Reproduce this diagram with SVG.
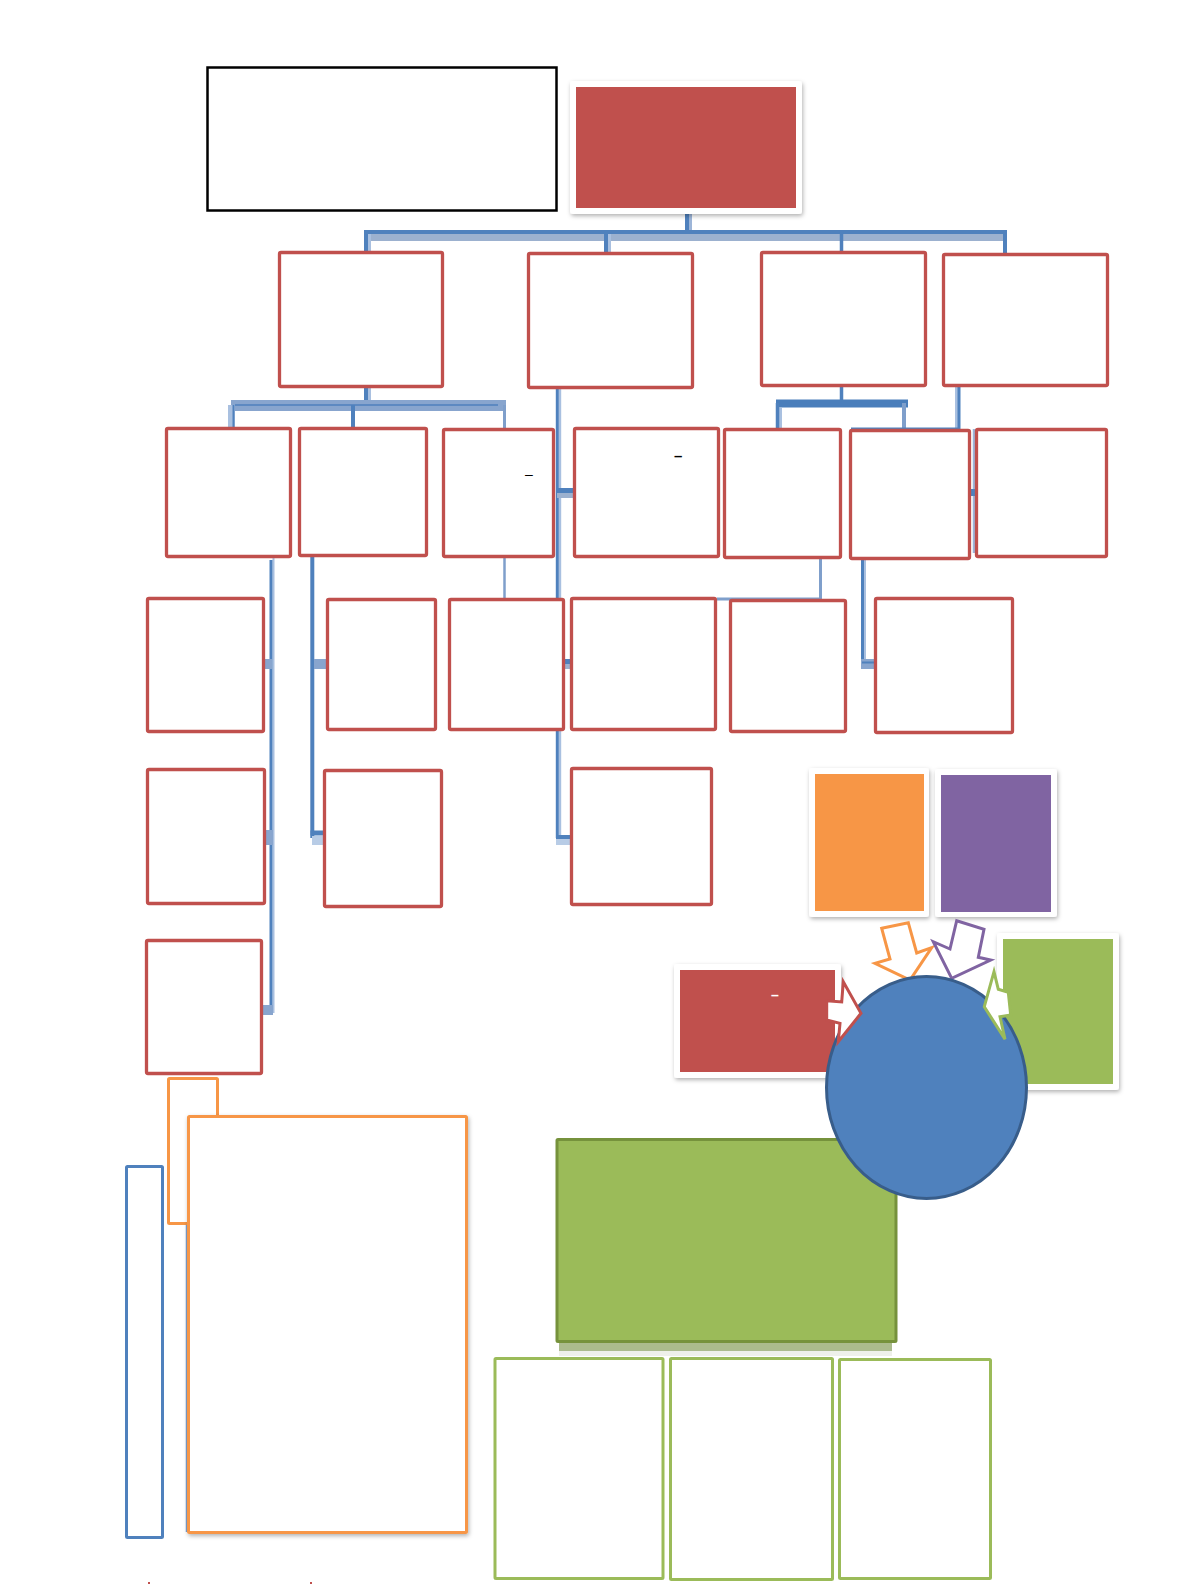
<svg xmlns="http://www.w3.org/2000/svg" width="1200" height="1584" viewBox="0 0 1200 1584">
<defs>
<style>
.rb{fill:#fff;stroke:#C0504D;stroke-width:3.3}
.card{fill:#fff;filter:url(#sh)}
.cd{fill:none;stroke:#4F81BD;stroke-linecap:butt}
.cl{fill:none;stroke:#9DB5D8}
.cm{fill:none;stroke:#7F9FCB}
.arr{fill:#fff;stroke-width:3;stroke-linejoin:miter}
.dash{font-family:"Liberation Sans",Arial,sans-serif}
</style>
<filter id="sh" x="-10%" y="-10%" width="125%" height="125%">
<feDropShadow dx="1" dy="2" stdDeviation="2" flood-color="#000" flood-opacity="0.3"/>
</filter>
</defs>
<rect width="1200" height="1584" fill="#fff"/>

<g id="connectors">
<!-- top tree -->
<rect x="689" y="214" width="3" height="17" fill="#9DB5D8"/>
<path class="cd" d="M687,214V232" stroke-width="4"/>
<rect x="366" y="234" width="639" height="7" fill="#9CB1CF"/>
<path class="cd" d="M364,232H1007" stroke-width="4"/>
<rect x="368" y="234" width="3" height="18" fill="#A9C0E0"/>
<path class="cd" d="M366,232V252" stroke-width="4"/>
<rect x="608" y="234" width="3" height="19" fill="#A9C0E0"/>
<path class="cd" d="M606,232V253" stroke-width="4"/>
<path class="cd" d="M841.5,232V252" stroke-width="3.5"/>
<path class="cd" d="M1005,232V255" stroke-width="4"/>
<!-- A to E F G -->
<rect x="368" y="388" width="3" height="13" fill="#A9C0E0"/>
<path class="cd" d="M366,388V402" stroke-width="4"/>
<rect x="231" y="400" width="275" height="11" fill="#88A5CE"/>
<path class="cd" d="M235,405H498" stroke-width="1.5"/>
<rect x="228" y="405" width="7" height="23" fill="#A9C0E0"/>
<path class="cd" d="M233.5,405V428" stroke-width="2"/>
<path class="cd" d="M353,405V427" stroke-width="4"/>
<path class="cm" d="M504.5,405V428" stroke-width="3"/>
<!-- B down to H O T -->
<rect x="558.7" y="389" width="2.5" height="449" fill="#A9C0E0"/>
<path class="cd" d="M557.3,389V838" stroke-width="3"/>
<rect x="557" y="493" width="16" height="5" fill="#9CB1CF"/>
<path class="cd" d="M557,490.5H573" stroke-width="5"/>
<rect x="557" y="664" width="13" height="5" fill="#9CB1CF"/>
<path class="cd" d="M557,661.5H570" stroke-width="5"/>
<rect x="556" y="839" width="16" height="6" fill="#B8CCE6"/>
<path class="cd" d="M556,837H572" stroke-width="4"/>
<!-- G to N -->
<path class="cm" d="M504.5,558V598" stroke-width="2.5"/>
<!-- E to L R U -->
<rect x="272.5" y="558" width="2" height="455" fill="#A9C0E0"/>
<path class="cd" d="M271,560V1012" stroke-width="3"/>
<rect x="264" y="659" width="8" height="10" fill="#88A5CE"/>
<rect x="265" y="830" width="8" height="15" fill="#88A5CE"/>
<rect x="263" y="1005" width="10" height="10" fill="#88A5CE"/>
<!-- F to M S -->
<path class="cd" d="M312.3,556V838" stroke-width="4"/>
<rect x="314" y="659" width="13" height="10" fill="#88A5CE"/>
<rect x="312" y="836" width="12" height="9" fill="#B8CCE6"/>
<path class="cd" d="M310.5,833H324" stroke-width="5"/>
<!-- C to I J -->
<path class="cd" d="M841.5,387V402" stroke-width="3.5"/>
<path d="M776,403.5H908" stroke="#4A7EBB" stroke-width="8" fill="none"/>
<rect x="779" y="408" width="3" height="20" fill="#A9C0E0"/>
<path class="cd" d="M777.5,403V429" stroke-width="3.5"/>
<path class="cm" d="M904,403V430" stroke-width="4"/>
<!-- D to K -->
<rect x="955" y="387" width="3" height="41" fill="#A9C0E0"/>
<path class="cd" d="M959,386V429H851" stroke-width="3"/>
<path class="cl" d="M974,429V553" stroke-width="2.5"/>
<path class="cd" d="M971,492.5H977" stroke-width="7"/>
<!-- I to P/O -->
<path class="cm" d="M820.5,559V599H717" stroke-width="3"/>
<!-- J to Q -->
<rect x="864" y="560" width="2" height="103" fill="#A9C0E0"/>
<path class="cd" d="M862.5,560V664" stroke-width="3"/>
<rect x="861" y="659" width="13" height="10" fill="#88A5CE"/>
<path class="cd" d="M862,662.5H874" stroke-width="2"/>
</g>

<g id="title-box"><rect x="207.5" y="67.5" width="349" height="143" fill="#fff" stroke="#000" stroke-width="2.5"/></g>
<g id="root"><rect class="card" x="570" y="81" width="232" height="133" rx="3"/><rect x="576" y="87" width="220" height="121" fill="#C0504D"/></g>

<g id="n-A"><rect class="rb" x="279.5" y="252.5" width="163" height="134" rx="1.5"/></g>
<g id="n-B"><rect class="rb" x="528.5" y="253.5" width="164" height="134" rx="1.5"/></g>
<g id="n-C"><rect class="rb" x="761.5" y="252.5" width="164" height="133" rx="1.5"/></g>
<g id="n-D"><rect class="rb" x="943.5" y="254.5" width="164" height="131" rx="1.5"/></g>

<g id="n-E"><rect class="rb" x="166.5" y="428.5" width="124" height="128" rx="1.5"/></g>
<g id="n-F"><rect class="rb" x="299.5" y="428.5" width="127" height="127" rx="1.5"/></g>
<g id="n-G"><rect class="rb" x="443.5" y="429.5" width="110" height="127" rx="1.5"/><text class="dash" x="525" y="479" font-size="14" fill="#000">–</text></g>
<g id="n-H"><rect class="rb" x="574.5" y="428.5" width="144" height="128" rx="1.5"/><text class="dash" x="674" y="461" font-size="15" font-weight="bold" fill="#000">–</text></g>
<g id="n-I"><rect class="rb" x="724.5" y="429.5" width="116" height="128" rx="1.5"/></g>
<g id="n-J"><rect class="rb" x="850.5" y="430.5" width="119" height="128" rx="1.5"/></g>
<g id="n-K"><rect class="rb" x="976.5" y="429.5" width="130" height="127" rx="1.5"/></g>

<g id="n-L"><rect class="rb" x="147.5" y="598.5" width="116" height="133" rx="1.5"/></g>
<g id="n-M"><rect class="rb" x="327.5" y="599.5" width="108" height="130" rx="1.5"/></g>
<g id="n-N"><rect class="rb" x="449.5" y="599.5" width="114" height="130" rx="1.5"/></g>
<g id="n-O"><rect class="rb" x="571.5" y="598.5" width="144" height="131" rx="1.5"/></g>
<g id="n-P"><rect class="rb" x="730.5" y="600.5" width="115" height="131" rx="1.5"/></g>
<g id="n-Q"><rect class="rb" x="875.5" y="598.5" width="137" height="134" rx="1.5"/></g>

<g id="n-R"><rect class="rb" x="147.5" y="769.5" width="117" height="134" rx="1.5"/></g>
<g id="n-S"><rect class="rb" x="324.5" y="770.5" width="117" height="136" rx="1.5"/></g>
<g id="n-T"><rect class="rb" x="571.5" y="768.5" width="140" height="136" rx="1.5"/></g>
<g id="n-U"><rect class="rb" x="146.5" y="940.5" width="115" height="133" rx="1.5"/></g>

<g id="orange-small"><rect x="168.5" y="1078.5" width="49" height="145" fill="#fff" stroke="#F79646" stroke-width="3" rx="1"/></g>
<g id="blue-tall"><rect x="126.5" y="1166.5" width="36" height="371" fill="#fff" stroke="#4F81BD" stroke-width="3" rx="1"/></g>
<path d="M186.5,1225V1532" stroke="#7F9FCB" stroke-width="1.5" fill="none"/>
<g id="orange-big"><rect x="188.5" y="1116.5" width="278" height="416" fill="#fff" stroke="#F79646" stroke-width="3" rx="1" filter="url(#sh)"/></g>

<g id="green-big">
<rect x="559" y="1343" width="333" height="8" fill="#ABBB8D"/>
<rect x="559" y="1351" width="333" height="5" fill="#EEF0EA"/>
<rect x="557" y="1139.5" width="339" height="202" fill="#9BBB59" stroke="#76923C" stroke-width="3" rx="1"/>
</g>
<g id="green-1"><rect x="495" y="1358.5" width="168" height="220" fill="#fff" stroke="#9BBB59" stroke-width="3" rx="1"/></g>
<g id="green-2"><rect x="670.5" y="1358.5" width="162" height="221" fill="#fff" stroke="#9BBB59" stroke-width="3" rx="1"/></g>
<g id="green-3"><rect x="839.5" y="1359.5" width="151" height="219" fill="#fff" stroke="#9BBB59" stroke-width="3" rx="1"/></g>

<g id="card-orange"><rect class="card" x="809" y="768" width="120" height="149" rx="3"/><rect x="815" y="774" width="109" height="137" fill="#F79646"/></g>
<g id="card-purple"><rect class="card" x="935" y="769" width="122" height="148" rx="3"/><rect x="941" y="775" width="110" height="137" fill="#8064A2"/></g>
<g id="card-green"><rect class="card" x="997" y="933" width="122" height="157" rx="3"/><rect x="1003" y="939" width="110" height="145" fill="#9BBB59"/></g>
<g id="card-red"><rect class="card" x="674" y="964" width="167" height="114" rx="3"/><rect x="680" y="970" width="155" height="102" fill="#C0504D"/><text class="dash" x="771" y="999.5" font-size="14" font-weight="bold" fill="#fff">–</text></g>

<g id="arrow-orange"><polygon class="arr" stroke="#F79646" points="881.7,928.3 908.3,922.7 916.7,953 931.7,947.7 910,980 875,963.3 890,959"/></g>
<g id="arrow-purple"><polygon class="arr" stroke="#8064A2" points="956.7,920.7 984,929.3 978.3,957.3 990.7,960 951.7,978.3 933.3,941.7 950,949"/></g>

<g id="hub"><ellipse cx="926.5" cy="1087.5" rx="100" ry="111" fill="#4F81BD" stroke="#385D8A" stroke-width="3"/></g>

<g id="arrow-red"><polygon class="arr" stroke="#C0504D" points="826.7,1000.7 841.7,1002 843.3,981.7 861,1013.3 838.3,1041.7 840,1023.3 826.7,1020"/></g>
<g id="arrow-green"><polygon class="arr" stroke="#9BBB59" points="998.3,989.3 994,971.7 984.3,1006.7 1005,1039.3 1000,1016.7 1010.7,1015 1008.3,992.3"/></g>

<rect x="148" y="1582" width="2" height="2" fill="#C0504D"/>
<rect x="310" y="1582" width="2" height="2" fill="#C0504D"/>
</svg>
